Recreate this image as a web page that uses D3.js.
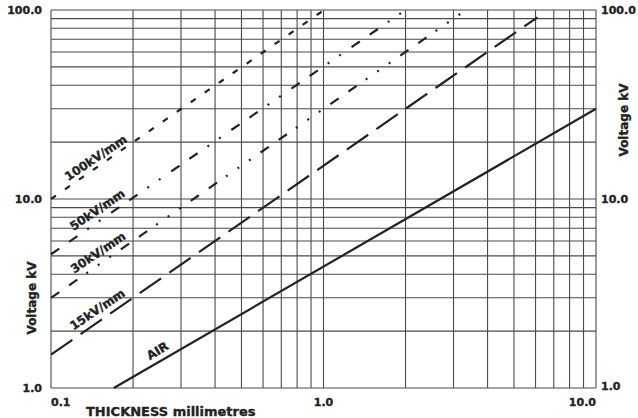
<!DOCTYPE html>
<meta charset="utf-8">
<script src="https://d3js.org/d3.v7.min.js"></script>
<style>
  body { margin: 0; background: #fff; }
  text { font-family: 'DejaVu Sans', sans-serif; font-weight: bold; fill: #222; stroke: #222; stroke-width: 0.35px; }
</style>
<body>
<div id="chart"></div>
<script>

// grid + ticks
var gridX = [0.1,0.2,0.3,0.4,0.5,0.6,0.7,0.8,0.9,1,2,3,4,5,6,7,8,9,10];
var gridY = [1,2,3,4,5,6,7,8,9,10,20,30,40,50,60,70,80,90,100];
var xTicks = [0.1, 1, 10];
var xTickLabels = ["0.1", "1.0", "10.0"];
var yTicks = [1, 10, 100];
var yTickLabels = ["1.0", "10.0", "100.0"];

// lines, [thickness mm, kV]
var kv100 = [[0.1, 10], [0.985, 98]];
var kv50 = [[0.1, 5.1], [2.0, 100]];
var kv30 = [[0.1, 3], [3.2, 96]];
var kv15 = [[0.1, 1.5], [6.1, 91.5]];
var air = [[0.17, 1], [10, 30]];

var lineNames = ["100kV/mm", "50kV/mm", "30kV/mm", "15kV/mm", "AIR"];
// label centre points [mm, kV]
var labelPos = [[0.146, 16.5], [0.148, 8.75], [0.149, 5.2], [0.148, 2.6], [0.246, 1.57]];

var margin = {top: 10, right: 42, bottom: 30, left: 51},
    width = 638 - margin.left - margin.right,
    height = 418 - margin.top - margin.bottom;

var svg = d3.select("#chart")
  .append("svg")
    .attr("width", 638)
    .attr("height", 418)
  .append("g")
    .attr("transform", "translate(" + margin.left + "," + margin.top + ")");

var x = d3.scaleLog().domain([0.1, 10]).range([0, width]);
var y = d3.scaleLog().domain([1, 100]).range([height, 0]);

// grid
svg.append("g").selectAll("line")
  .data(gridX)
  .enter().append("line")
    .attr("x1", function(d) { return x(d) }).attr("x2", function(d) { return x(d) })
    .attr("y1", 0).attr("y2", height)
    .attr("stroke", "#4a4a4a").attr("stroke-width", 1.1);

svg.append("g").selectAll("line")
  .data(gridY)
  .enter().append("line")
    .attr("y1", function(d) { return y(d) }).attr("y2", function(d) { return y(d) })
    .attr("x1", 0).attr("x2", width)
    .attr("stroke", "#4a4a4a").attr("stroke-width", 1.1);

// tick labels
svg.selectAll(".xt")
  .data(xTicks)
  .enter().append("text")
    .attr("x", function(d) { return x(d) })
    .attr("y", height + 18)
    .attr("text-anchor", function(d, i) { return i == 0 ? "start" : (i == 1 ? "middle" : "end") })
    .style("font-size", "11px")
    .text(function(d, i) { return xTickLabels[i] });

svg.selectAll(".yl")
  .data(yTicks)
  .enter().append("text")
    .attr("x", -9)
    .attr("y", function(d) { return y(d) + 4 })
    .attr("text-anchor", "end")
    .style("font-size", "11px")
    .text(function(d, i) { return yTickLabels[i] });

svg.selectAll(".yr")
  .data(yTicks)
  .enter().append("text")
    .attr("x", width + 5)
    .attr("y", function(d, i) { return y(d) + (i == 0 ? 2 : 4) })
    .attr("text-anchor", "start")
    .style("font-size", "11px")
    .text(function(d, i) { return yTickLabels[i] });

// axis titles
svg.append("text")
  .attr("x", 86 - margin.left)
  .attr("y", 416 - margin.top)
  .style("font-size", "13px")
  .text("THICKNESS millimetres");

svg.append("text")
  .attr("transform", "translate(" + (36 - margin.left) + "," + (298 - margin.top) + ") rotate(-90)")
  .attr("text-anchor", "middle")
  .style("font-size", "12px")
  .text("Voltage kV");

svg.append("text")
  .attr("transform", "translate(" + (628 - margin.left) + "," + (120 - margin.top) + ") rotate(-90)")
  .attr("text-anchor", "middle")
  .style("font-size", "12px")
  .text("Voltage kV");

// the lines
var line = d3.line()
  .x(function(d) { return x(d[0]) })
  .y(function(d) { return y(d[1]) });

var series = [kv100, kv50, kv30, kv15, air];
var dashes = ["6,11", "10,12,10,12,2,12,2,13", "10,12,10,11,2,12,2,12,2,12", "26,10", null];

series.forEach(function(s, i) {
  svg.append("path")
    .datum(s)
    .attr("d", line)
    .attr("fill", "none")
    .attr("stroke", "#222")
    .attr("stroke-width", 2.2)
    .attr("stroke-dasharray", dashes[i]);
});

// line labels
svg.selectAll(".lab")
  .data(labelPos)
  .enter().append("text")
    .attr("transform", function(d, i) { return "translate(" + x(d[0]) + "," + y(d[1]) + ") rotate(" + (i == 4 ? -31 : -34) + ")" })
    .attr("text-anchor", "middle")
    .attr("dominant-baseline", "central")
    .style("font-size", "12px")
    .text(function(d, i) { return lineNames[i] });

</script>
</body>
